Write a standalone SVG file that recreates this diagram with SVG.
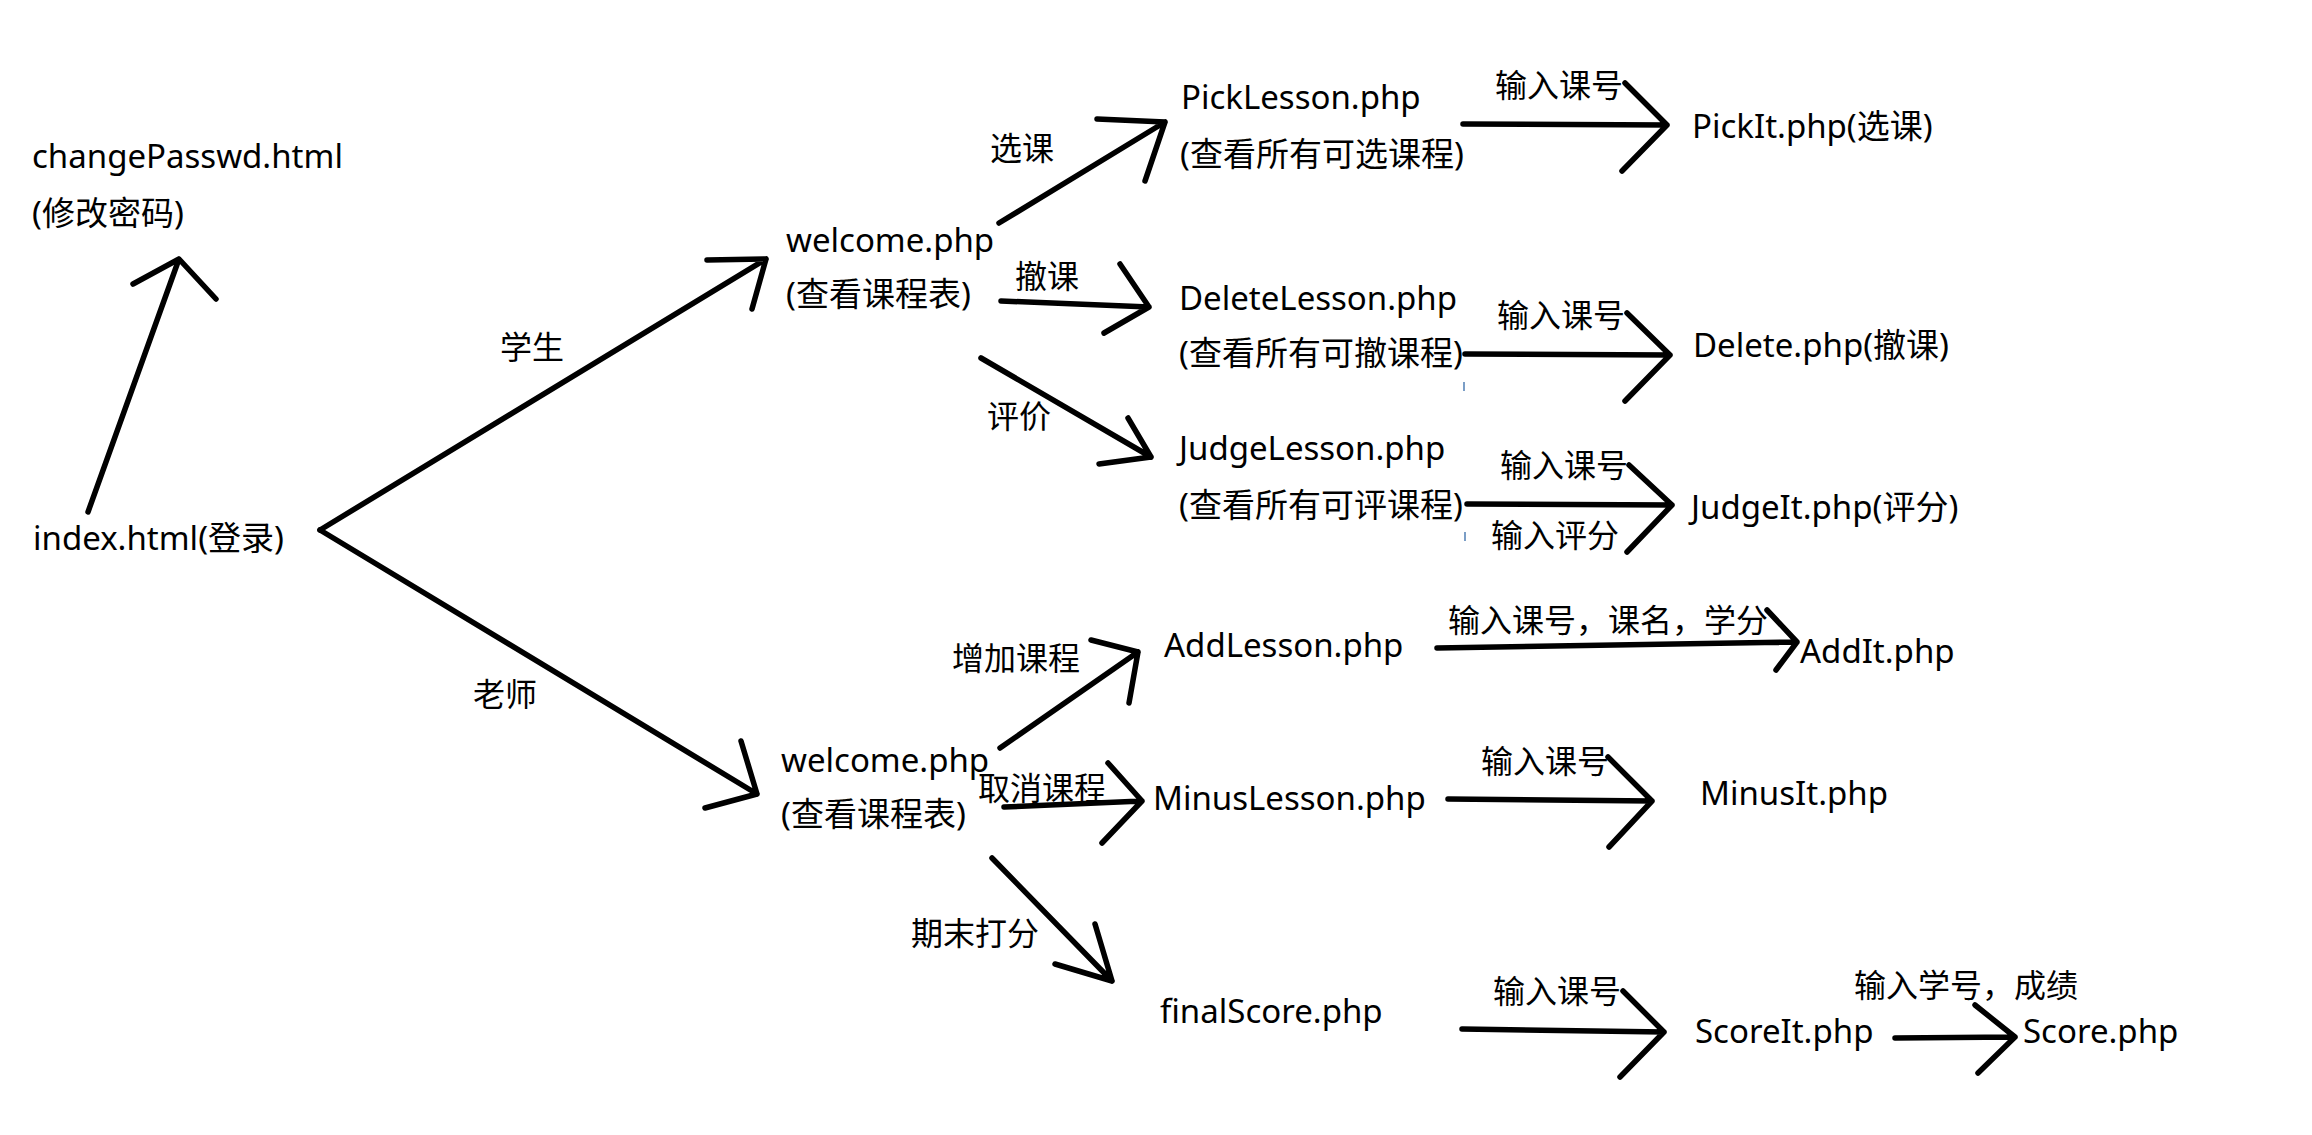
<svg xmlns="http://www.w3.org/2000/svg" width="2312" height="1135" viewBox="0 0 2312 1135">
<style>
  text { font-family: "Noto Sans", "Noto Sans CJK SC", sans-serif; font-size: 33px; fill: #000; }
  .lbl { font-size: 32px; }
  .c { fill: none; stroke: #000; stroke-width: 5.5; stroke-linecap: round; stroke-linejoin: round; }
  .mark { fill: none; stroke: #5a86b8; stroke-width: 1.6; }
</style>
<rect width="2312" height="1135" fill="#fff"/>

<g id="connectors">
  <path class="c" d="M88,512 L179,259 M133,284 L179,259 L216,299"/>
  <path class="c" d="M320,530 L766,259 M707,260 L766,259 L752,309"/>
  <path class="c" d="M320,530 L757,794 M741,741 L757,794 L705,808"/>
  <path class="c" d="M999,223 L1165,122 M1097,119 L1165,122 L1145,181"/>
  <path class="c" d="M1001,301 L1149,307 M1120,264 L1149,307 L1104,333"/>
  <path class="c" d="M981,358 L1151,457 M1128,418 L1151,457 L1099,464"/>
  <path class="c" d="M1463,124 L1667,125 M1625,83 L1667,125 L1622,171"/>
  <path class="c" d="M1465,354 L1670,355 M1627,313 L1670,355 L1625,401"/>
  <path class="c" d="M1467,504 L1672,505 M1629,465 L1672,505 L1627,552"/>
  <path class="c" d="M1000,748 L1138,652 M1091,640 L1138,652 L1129,703"/>
  <path class="c" d="M1004,807 L1142,801 M1108,763 L1142,801 L1102,843"/>
  <path class="c" d="M992,858 L1112,981 M1095,924 L1112,981 L1055,964"/>
  <path class="c" d="M1437,648 L1797,642 M1767,610 L1797,642 L1776,670"/>
  <path class="c" d="M1448,799 L1652,801 M1608,757 L1652,801 L1609,847"/>
  <path class="c" d="M1462,1029 L1664,1032 M1623,991 L1664,1032 L1620,1077"/>
  <path class="c" d="M1895,1038 L2015,1037 M1975,1005 L2015,1037 L1978,1073"/>
  <path class="mark" d="M1464,382 L1464,391 M1465,532 L1465,541"/>
</g>

<g id="edge-labels">
  <text class="lbl" x="500" y="359">学生</text>
  <text class="lbl" x="473" y="706">老师</text>
  <text class="lbl" x="990" y="160">选课</text>
  <text class="lbl" x="1015" y="288">撤课</text>
  <text class="lbl" x="987" y="428">评价</text>
  <text class="lbl" x="1495" y="97">输入课号</text>
  <text class="lbl" x="1497" y="327">输入课号</text>
  <text class="lbl" x="1500" y="477">输入课号</text>
  <text class="lbl" x="1491" y="547">输入评分</text>
  <text class="lbl" x="952" y="670">增加课程</text>
  <text class="lbl" x="978" y="800">取消课程</text>
  <text class="lbl" x="911" y="945">期末打分</text>
  <text class="lbl" x="1448" y="632">输入课号，课名，学分</text>
  <text class="lbl" x="1481" y="773">输入课号</text>
  <text class="lbl" x="1493" y="1003">输入课号</text>
  <text class="lbl" x="1854" y="997">输入学号，成绩</text>
</g>

<g id="node-changePasswd">
  <text x="32" y="168">changePasswd.html</text>
  <text x="32" y="225">(修改密码)</text>
</g>
<g id="node-index">
  <text x="33" y="550">index.html(登录)</text>
</g>
<g id="node-welcome-student">
  <text x="786" y="252">welcome.php</text>
  <text x="786" y="306">(查看课程表)</text>
</g>
<g id="node-welcome-teacher">
  <text x="781" y="772">welcome.php</text>
  <text x="781" y="826">(查看课程表)</text>
</g>
<g id="node-PickLesson">
  <text x="1181" y="109">PickLesson.php</text>
  <text x="1180" y="166">(查看所有可选课程)</text>
</g>
<g id="node-DeleteLesson">
  <text x="1179" y="310">DeleteLesson.php</text>
  <text x="1179" y="365">(查看所有可撤课程)</text>
</g>
<g id="node-JudgeLesson">
  <text x="1179" y="460">JudgeLesson.php</text>
  <text x="1179" y="517">(查看所有可评课程)</text>
</g>
<g id="node-PickIt">
  <text x="1692" y="138">PickIt.php(选课)</text>
</g>
<g id="node-Delete">
  <text x="1693" y="357">Delete.php(撤课)</text>
</g>
<g id="node-JudgeIt">
  <text x="1691" y="519">JudgeIt.php(评分)</text>
</g>
<g id="node-AddLesson">
  <text x="1164" y="657">AddLesson.php</text>
</g>
<g id="node-MinusLesson">
  <text x="1153" y="810">MinusLesson.php</text>
</g>
<g id="node-finalScore">
  <text x="1160" y="1023">finalScore.php</text>
</g>
<g id="node-AddIt">
  <text x="1800" y="663">AddIt.php</text>
</g>
<g id="node-MinusIt">
  <text x="1700" y="805">MinusIt.php</text>
</g>
<g id="node-ScoreIt">
  <text x="1695" y="1043">ScoreIt.php</text>
</g>
<g id="node-Score">
  <text x="2023" y="1043">Score.php</text>
</g>
</svg>
